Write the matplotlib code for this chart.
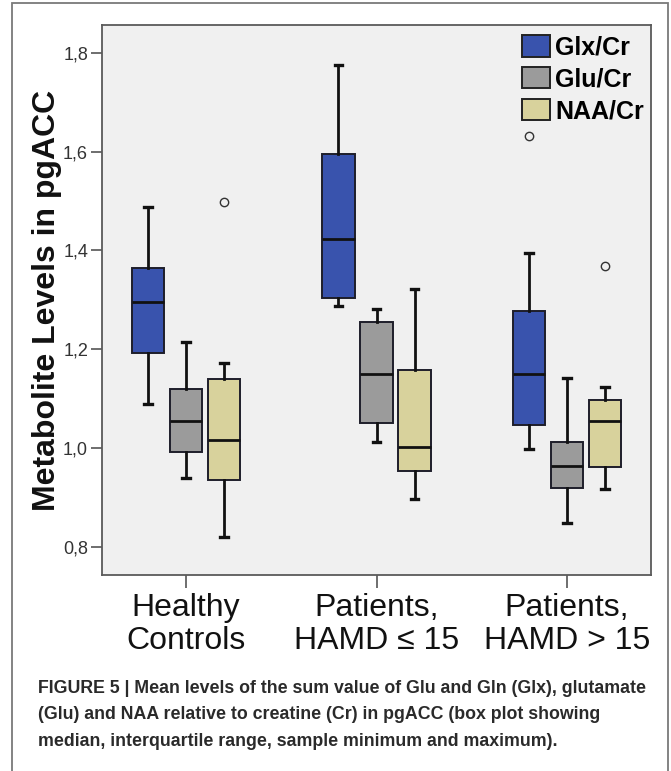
import matplotlib
matplotlib.use("Agg")
import matplotlib.pyplot as plt
from matplotlib.patches import Patch, Rectangle
from matplotlib.ticker import FuncFormatter

# Groups and series
groups = ["Healthy\nControls", "Patients,\nHAMD \u2264 15", "Patients,\nHAMD > 15"]
series = ["Glx/Cr", "Glu/Cr", "NAA/Cr"]
colors = ["#3953ad", "#9b9b9b", "#d8d29c"]

# Five-number summaries per series, one value per group:
# sample minimum, lower quartile, median, upper quartile, sample maximum
glx_min = [1.089, 1.287, 0.998]
glx_q1 = [1.193, 1.304, 1.047]
glx_med = [1.295, 1.422, 1.150]
glx_q3 = [1.365, 1.595, 1.278]
glx_max = [1.488, 1.776, 1.395]
glx_out = [[], [], [1.631]]

glu_min = [0.939, 1.012, 0.849]
glu_q1 = [0.992, 1.050, 0.919]
glu_med = [1.055, 1.150, 0.964]
glu_q3 = [1.119, 1.255, 1.012]
glu_max = [1.214, 1.282, 1.141]
glu_out = [[], [], []]

naa_min = [0.820, 0.897, 0.917]
naa_q1 = [0.936, 0.954, 0.961]
naa_med = [1.016, 1.003, 1.054]
naa_q3 = [1.140, 1.158, 1.098]
naa_max = [1.172, 1.321, 1.123]
naa_out = [[1.497], [], [1.368]]

yticks = [0.8, 1.0, 1.2, 1.4, 1.6, 1.8]

summaries = [
    (glx_min, glx_q1, glx_med, glx_q3, glx_max, glx_out),
    (glu_min, glu_q1, glu_med, glu_q3, glu_max, glu_out),
    (naa_min, naa_q1, naa_med, naa_q3, naa_max, naa_out),
]

plt.rcParams["font.family"] = ["Liberation Sans", "DejaVu Sans"]

fig = plt.figure(figsize=(6.71, 7.71), dpi=100)
fig.patch.set_facecolor("white")

# outer frame around the figure panel
fig.add_artist(Rectangle((12 / 671, -0.01), 656 / 671, 1.01 - 3 / 771,
                         transform=fig.transFigure, fill=False,
                         edgecolor="#7a7a7a", linewidth=1.3))

ax = fig.add_axes([102 / 671, 1 - 575 / 771, 549 / 671, 550 / 771])
ax.set_facecolor("#f0f0f0")

offsets = [-0.2, 0.0, 0.2]
box_w = 0.17
for s_idx, (lo, q1, med, q3, hi, out) in enumerate(summaries):
    stats = []
    for g in range(len(groups)):
        stats.append(dict(whislo=lo[g], q1=q1[g], med=med[g], q3=q3[g],
                          whishi=hi[g], fliers=out[g]))
    pos = [g + offsets[s_idx] for g in range(len(groups))]
    ax.bxp(stats, positions=pos, widths=box_w, patch_artist=True,
           showfliers=True, capwidths=0.04,
           boxprops=dict(facecolor=colors[s_idx], edgecolor="#1e1e2a", linewidth=1.4),
           medianprops=dict(color="#111111", linewidth=2.0),
           whiskerprops=dict(color="#111111", linewidth=2.0),
           capprops=dict(color="#111111", linewidth=2.4),
           flierprops=dict(marker="o", markersize=6, markerfacecolor="none",
                           markeredgecolor="#333333", markeredgewidth=1.0))

ax.set_xlim(-0.442, 2.442)
ax.set_ylim(0.743, 1.856)
ax.set_xticks(range(len(groups)))
ax.set_xticklabels(groups, fontsize=23, linespacing=1.12)
ax.set_yticks(yticks)
ax.yaxis.set_major_formatter(FuncFormatter(lambda v, p: f"{v:.1f}".replace(".", ",")))
ax.tick_params(axis="y", labelsize=13, length=8, width=1.2, color="#555555",
               pad=2, labelcolor="#333333")
ax.tick_params(axis="x", length=9, width=1.2, color="#555555", pad=4,
               labelcolor="#111111")
for sp in ax.spines.values():
    sp.set_color("#5a5a5a")
    sp.set_linewidth(1.3)

ax.set_ylabel("Metabolite Levels in pgACC", fontsize=23, fontweight="bold",
              labelpad=1, color="#111111")

handles = [Patch(facecolor=c, edgecolor="#222222", linewidth=1.4) for c in colors]
leg = ax.legend(handles, series, loc="upper right", bbox_to_anchor=(1.005, 1.0),
                frameon=False, prop=dict(size=18, weight="bold"),
                handlelength=1.1, handleheight=0.95, handletextpad=0.2,
                labelspacing=0.3, borderaxespad=0.0)

caption = ("FIGURE 5 | Mean levels of the sum value of Glu and Gln (Glx), glutamate\n"
           "(Glu) and NAA relative to creatine (Cr) in pgACC (box plot showing\n"
           "median, interquartile range, sample minimum and maximum).")
fig.text(38 / 671, 1 - 680 / 771, caption, ha="left", va="top", fontsize=12.8,
         fontweight="bold", color="#2a2a2a", linespacing=1.72,
         family=["Liberation Sans Narrow", "Liberation Sans", "DejaVu Sans"])

fig.savefig("out.png", dpi=100, facecolor="white")
